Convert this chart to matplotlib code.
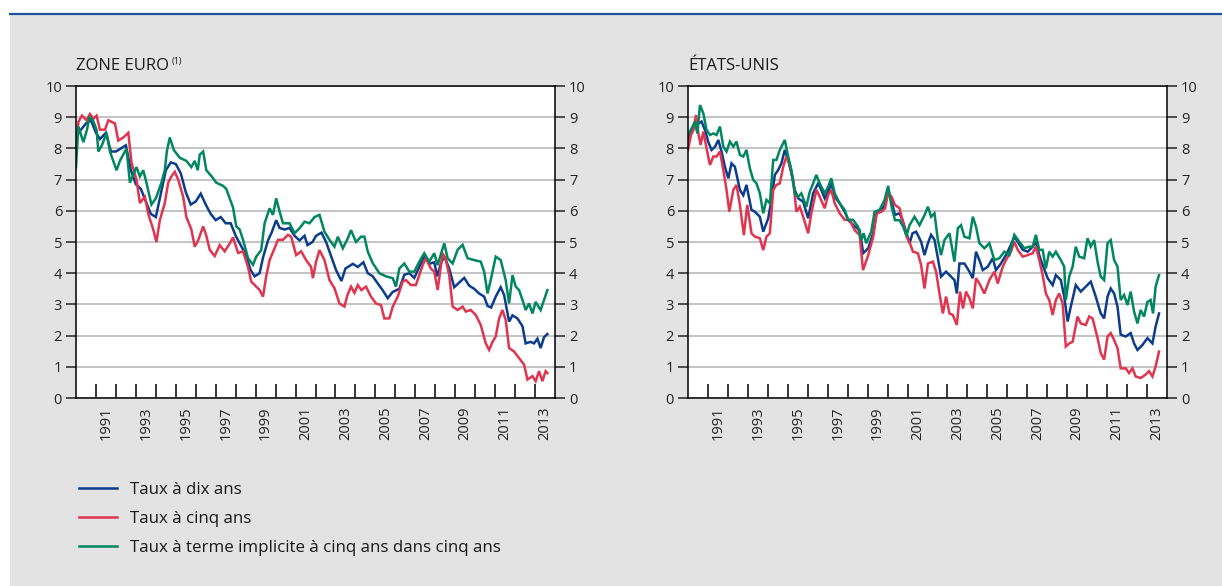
import matplotlib
matplotlib.use("Agg")
import matplotlib.pyplot as plt
from matplotlib.patches import Rectangle
from matplotlib.lines import Line2D

plt.rcParams['font.family'] = ['Open Sans', 'DejaVu Sans']

# --- zone euro ---
ez10_t = [1990.0, 1990.25, 1990.5, 1990.75, 1991.0, 1991.2, 1991.5, 1991.75, 1992.0, 1992.25, 1992.5, 1992.75,
          1993.0, 1993.25, 1993.5, 1993.75, 1994.0, 1994.25, 1994.5, 1994.75, 1995.0, 1995.25, 1995.5, 1995.75,
          1996.0, 1996.25, 1996.5, 1996.75, 1997.0, 1997.25, 1997.5, 1997.75, 1998.0, 1998.25, 1998.5, 1998.75,
          1998.95, 1999.2, 1999.37, 1999.62, 1999.8, 2000.03, 2000.2, 2000.45, 2000.7, 2000.95, 2001.2, 2001.45,
          2001.6, 2001.85, 2002.03, 2002.3, 2002.53, 2002.78, 2003.03, 2003.3, 2003.5, 2003.87, 2004.12, 2004.4,
          2004.62, 2004.87, 2005.12, 2005.37, 2005.62, 2005.87, 2006.2, 2006.45, 2006.7, 2006.95, 2007.2, 2007.45,
          2007.7, 2007.95, 2008.1, 2008.28, 2008.45, 2008.7, 2008.95, 2009.2, 2009.45, 2009.7, 2009.95, 2010.2,
          2010.45, 2010.62, 2010.8, 2011.03, 2011.28, 2011.45, 2011.7, 2011.87, 2012.12, 2012.37, 2012.53, 2012.78,
          2012.95, 2013.12, 2013.28, 2013.45, 2013.62]
ez10 = [8.4, 8.6, 8.8, 8.9, 8.5, 8.3, 8.5, 7.9, 7.9, 8.0, 8.1, 7.3,
        6.85, 6.7, 6.3, 5.9, 5.8, 6.55, 7.3, 7.55, 7.5, 7.2, 6.6, 6.2,
        6.3, 6.55, 6.2, 5.9, 5.7, 5.8, 5.6, 5.6, 5.2, 4.9, 4.6, 4.1,
        3.9, 4.0, 4.5, 5.05, 5.3, 5.7, 5.45, 5.4, 5.45, 5.2, 5.05, 5.2,
        4.9, 5.0, 5.2, 5.3, 5.0, 4.55, 4.1, 3.75, 4.15, 4.3, 4.2, 4.35,
        4.0, 3.9, 3.67, 3.45, 3.2, 3.4, 3.5, 3.95, 4.0, 3.85, 4.2, 4.55,
        4.3, 4.35, 3.9, 4.3, 4.55, 4.15, 3.55, 3.7, 3.85, 3.6, 3.5, 3.35,
        3.25, 2.95, 2.9, 3.25, 3.55, 3.3, 2.45, 2.65, 2.55, 2.3, 1.75, 1.8,
        1.75, 1.9, 1.6, 1.95, 2.05]

ez5_t = [1990.0, 1990.12, 1990.3, 1990.53, 1990.7, 1990.87, 1991.03, 1991.2, 1991.45, 1991.62, 1991.95, 1992.12,
         1992.37, 1992.62, 1992.78, 1993.03, 1993.2, 1993.45, 1993.62, 1993.87, 1994.03, 1994.2, 1994.45, 1994.62,
         1994.78, 1994.95, 1995.12, 1995.37, 1995.53, 1995.78, 1995.95, 1996.12, 1996.37, 1996.53, 1996.7, 1996.95,
         1997.2, 1997.45, 1997.7, 1997.87, 1998.12, 1998.37, 1998.62, 1998.78, 1999.03, 1999.2, 1999.37, 1999.53,
         1999.7, 1999.95, 2000.12, 2000.37, 2000.62, 2000.78, 2001.03, 2001.28, 2001.53, 2001.78, 2001.87, 2002.03,
         2002.2, 2002.45, 2002.7, 2002.95, 2003.2, 2003.45, 2003.6, 2003.78, 2003.95, 2004.12, 2004.3, 2004.53,
         2004.78, 2005.03, 2005.28, 2005.45, 2005.7, 2005.87, 2006.12, 2006.37, 2006.53, 2006.78, 2007.03, 2007.2,
         2007.37, 2007.53, 2007.78, 2007.95, 2008.12, 2008.37, 2008.53, 2008.7, 2008.87, 2009.12, 2009.37, 2009.53,
         2009.78, 2010.03, 2010.28, 2010.53, 2010.7, 2010.87, 2011.03, 2011.2, 2011.37, 2011.53, 2011.7, 2011.95,
         2012.2, 2012.45, 2012.62, 2012.87, 2013.03, 2013.2, 2013.37, 2013.53, 2013.62]
ez5 = [7.95, 8.85, 9.05, 8.9, 9.1, 8.95, 9.05, 8.6, 8.6, 8.9, 8.8, 8.25,
       8.35, 8.5, 7.55, 7.0, 6.25, 6.45, 5.9, 5.4, 5.0, 5.7, 6.25, 6.9,
       7.1, 7.25, 7.0, 6.45, 5.8, 5.4, 4.85, 5.05, 5.5, 5.2, 4.75, 4.55,
       4.9, 4.7, 4.95, 5.15, 4.65, 4.7, 4.2, 3.73, 3.57, 3.46, 3.25, 3.9,
       4.42, 4.8, 5.07, 5.07, 5.23, 5.17, 4.58, 4.7, 4.42, 4.2, 3.84, 4.37,
       4.74, 4.42, 3.78, 3.52, 3.03, 2.93, 3.3, 3.57, 3.37, 3.62, 3.46, 3.57,
       3.25, 3.03, 2.98, 2.55, 2.55, 2.93, 3.25, 3.73, 3.78, 3.62, 3.62, 3.94,
       4.26, 4.48, 4.15, 4.05, 3.46, 4.64, 4.42, 3.94, 2.93, 2.82, 2.93, 2.77,
       2.82, 2.66, 2.34, 1.75, 1.54, 1.8, 1.97, 2.55, 2.82, 2.5, 1.6, 1.49,
       1.28, 1.07, 0.59, 0.7, 0.54, 0.86, 0.54, 0.86, 0.8]

ezfw_t = [1990.0, 1990.12, 1990.37, 1990.55, 1990.67, 1990.85, 1991.03, 1991.12, 1991.3, 1991.53, 1991.7, 1992.03,
          1992.2, 1992.53, 1992.7, 1993.03, 1993.2, 1993.37, 1993.53, 1993.78, 1994.0, 1994.28, 1994.45, 1994.55,
          1994.7, 1994.9, 1995.2, 1995.53, 1995.78, 1995.95, 1996.1, 1996.2, 1996.37, 1996.53, 1996.8, 1997.03,
          1997.37, 1997.53, 1997.7, 1997.87, 1998.03, 1998.2, 1998.37, 1998.62, 1998.87, 1999.03, 1999.28, 1999.45,
          1999.7, 1999.87, 2000.03, 2000.2, 2000.37, 2000.7, 2000.95, 2001.2, 2001.45, 2001.7, 2001.95, 2002.2,
          2002.45, 2002.7, 2002.95, 2003.12, 2003.37, 2003.62, 2003.78, 2004.03, 2004.28, 2004.45, 2004.62, 2004.87,
          2005.2, 2005.53, 2005.87, 2006.03, 2006.2, 2006.45, 2006.7, 2006.95, 2007.2, 2007.45, 2007.7, 2007.95,
          2008.12, 2008.45, 2008.62, 2008.87, 2009.12, 2009.37, 2009.62, 2009.95, 2010.28, 2010.45, 2010.62, 2010.78,
          2011.03, 2011.28, 2011.53, 2011.7, 2011.87, 2012.03, 2012.2, 2012.37, 2012.53, 2012.7, 2012.87, 2013.03,
          2013.28, 2013.45, 2013.62]
ezfw = [7.4, 8.7, 8.2, 8.6, 9.0, 8.9, 8.6, 7.9, 8.1, 8.5, 7.9, 7.3,
        7.6, 8.0, 6.9, 7.4, 7.1, 7.3, 6.9, 6.2, 6.4, 6.9, 7.3, 7.9,
        8.35, 7.95, 7.7, 7.6, 7.4, 7.6, 7.3, 7.8, 7.9, 7.3, 7.1, 6.9,
        6.8, 6.7, 6.4, 6.1, 5.5, 5.4, 5.07, 4.48, 4.27, 4.53, 4.74, 5.6,
        6.08, 5.87, 6.4, 5.98, 5.6, 5.6, 5.28, 5.44, 5.65, 5.6, 5.8, 5.87,
        5.33, 5.07, 4.85, 5.17, 4.8, 5.12, 5.38, 5.0, 5.17, 5.17, 4.69, 4.32,
        4.0, 3.9, 3.84, 3.57, 4.15, 4.31, 4.05, 4.05, 4.37, 4.64, 4.37, 4.64,
        4.26, 4.96, 4.48, 4.31, 4.75, 4.91, 4.48, 4.42, 4.37, 4.05, 3.35, 3.78,
        4.53, 4.42, 3.78, 3.03, 3.94, 3.57, 3.46, 3.14, 2.82, 3.03, 2.71, 3.08,
        2.82, 3.14, 3.46]

# --- états-unis ---
us10_t = [1990.0, 1990.07, 1990.3, 1990.52, 1990.68, 1990.85, 1991.02, 1991.18, 1991.35, 1991.52, 1991.68, 1991.85,
          1992.02, 1992.18, 1992.35, 1992.6, 1992.77, 1992.93, 1993.18, 1993.35, 1993.6, 1993.77, 1994.02, 1994.18,
          1994.35, 1994.52, 1994.68, 1994.85, 1995.02, 1995.18, 1995.35, 1995.52, 1995.77, 1996.02, 1996.27, 1996.52,
          1996.68, 1996.85, 1997.02, 1997.18, 1997.35, 1997.6, 1997.85, 1998.03, 1998.37, 1998.6, 1998.78, 1999.03,
          1999.28, 1999.45, 1999.7, 1999.87, 2000.03, 2000.2, 2000.37, 2000.6, 2000.75, 2001.1, 2001.25, 2001.43,
          2001.68, 2001.85, 2002.02, 2002.18, 2002.35, 2002.52, 2002.68, 2002.93, 2003.18, 2003.35, 2003.47, 2003.6,
          2003.85, 2004.1, 2004.27, 2004.43, 2004.6, 2004.77, 2005.02, 2005.27, 2005.43, 2005.68, 2005.93, 2006.18,
          2006.35, 2006.52, 2006.77, 2007.02, 2007.27, 2007.43, 2007.6, 2007.77, 2008.02, 2008.27, 2008.43, 2008.68,
          2008.85, 2009.02, 2009.18, 2009.43, 2009.68, 2009.93, 2010.18, 2010.43, 2010.68, 2010.85, 2011.02, 2011.18,
          2011.35, 2011.52, 2011.68, 2011.93, 2012.18, 2012.35, 2012.52, 2012.77, 2013.02, 2013.27, 2013.43, 2013.6]
us10 = [8.3, 8.48, 8.64, 8.8, 8.86, 8.59, 8.2, 7.95, 8.05, 8.27, 7.9, 7.41,
        7.04, 7.52, 7.41, 6.67, 6.5, 6.83, 6.03, 5.97, 5.81, 5.33, 5.76, 6.35,
        7.15, 7.31, 7.52, 7.95, 7.63, 7.2, 6.67, 6.4, 6.29, 5.76, 6.56, 6.88,
        6.67, 6.4, 6.61, 6.88, 6.45, 6.24, 5.97, 5.7, 5.49, 5.38, 4.64, 4.8,
        5.28, 5.92, 6.03, 6.19, 6.67, 6.3, 5.87, 5.92, 5.7, 4.96, 5.28, 5.33,
        5.01, 4.58, 4.96, 5.23, 5.07, 4.48, 3.89, 4.05, 3.89, 3.78, 3.35, 4.31,
        4.31, 4.05, 3.84, 4.69, 4.42, 4.1, 4.21, 4.48, 4.1, 4.31, 4.58, 4.91,
        5.17, 5.01, 4.75, 4.69, 4.85, 5.01, 4.58, 4.26, 3.84, 3.62, 3.94, 3.78,
        3.25, 2.45, 2.93, 3.62, 3.41, 3.57, 3.73, 3.25, 2.71, 2.55, 3.25, 3.51,
        3.35, 2.93, 2.03, 1.97, 2.08, 1.75, 1.54, 1.7, 1.92, 1.75, 2.29, 2.71]

us5_t = [1990.0, 1990.15, 1990.27, 1990.4, 1990.52, 1990.63, 1990.77, 1990.93, 1991.1, 1991.27, 1991.43, 1991.6,
         1991.77, 1991.93, 1992.07, 1992.27, 1992.43, 1992.6, 1992.8, 1992.97, 1993.18, 1993.35, 1993.6, 1993.77,
         1993.93, 1994.1, 1994.27, 1994.43, 1994.6, 1994.77, 1994.93, 1995.1, 1995.27, 1995.43, 1995.6, 1995.77,
         1996.02, 1996.18, 1996.43, 1996.6, 1996.85, 1997.02, 1997.18, 1997.35, 1997.6, 1997.85, 1998.1, 1998.35,
         1998.6, 1998.77, 1999.03, 1999.28, 1999.45, 1999.7, 1999.87, 2000.03, 2000.2, 2000.37, 2000.6, 2000.78,
         2000.95, 2001.12, 2001.27, 2001.52, 2001.68, 2001.85, 2002.02, 2002.27, 2002.43, 2002.6, 2002.77, 2002.93,
         2003.1, 2003.27, 2003.47, 2003.63, 2003.78, 2003.93, 2004.1, 2004.27, 2004.43, 2004.6, 2004.85, 2005.1,
         2005.35, 2005.52, 2005.77, 2005.93, 2006.18, 2006.35, 2006.52, 2006.77, 2007.02, 2007.27, 2007.43, 2007.6,
         2007.77, 2007.93, 2008.1, 2008.27, 2008.43, 2008.6, 2008.77, 2008.93, 2009.1, 2009.27, 2009.52, 2009.68,
         2009.93, 2010.1, 2010.27, 2010.52, 2010.68, 2010.85, 2011.02, 2011.18, 2011.35, 2011.52, 2011.68, 2011.93,
         2012.1, 2012.27, 2012.43, 2012.68, 2012.93, 2013.1, 2013.27, 2013.43, 2013.6]
us5 = [7.95, 8.43, 8.59, 9.07, 8.48, 8.11, 8.54, 8.0, 7.47, 7.74, 7.74, 7.9,
       7.31, 6.67, 5.97, 6.67, 6.83, 6.19, 5.22, 6.19, 5.28, 5.17, 5.12, 4.74,
       5.17, 5.28, 6.67, 6.83, 6.88, 7.41, 7.74, 7.47, 6.99, 5.97, 6.13, 5.81,
       5.28, 5.92, 6.67, 6.45, 6.08, 6.51, 6.67, 6.24, 5.92, 5.71, 5.71, 5.38,
       5.22, 4.1, 4.58, 5.17, 5.92, 5.97, 6.08, 6.56, 6.45, 6.19, 6.08, 5.6,
       5.17, 4.96, 4.69, 4.64, 4.26, 3.51, 4.31, 4.37, 4.05, 3.35, 2.71, 3.25,
       2.71, 2.66, 2.34, 3.41, 2.87, 3.41, 3.2, 2.87, 3.84, 3.67, 3.35, 3.78,
       4.05, 3.67, 4.21, 4.42, 4.69, 5.01, 4.75, 4.53, 4.58, 4.64, 4.85, 4.42,
       3.94, 3.35, 3.14, 2.66, 3.14, 3.35, 3.03, 1.65, 1.75, 1.8, 2.61, 2.39,
       2.34, 2.61, 2.55, 1.92, 1.44, 1.23, 1.97, 2.08, 1.86, 1.6, 0.95, 0.95,
       0.8, 0.95, 0.69, 0.64, 0.75, 0.86, 0.69, 1.01, 1.49]

usfw_t = [1990.0, 1990.18, 1990.35, 1990.47, 1990.6, 1990.77, 1990.93, 1991.1, 1991.27, 1991.43, 1991.6, 1991.77,
          1991.93, 1992.1, 1992.27, 1992.43, 1992.6, 1992.77, 1992.93, 1993.1, 1993.27, 1993.43, 1993.6, 1993.77,
          1993.93, 1994.1, 1994.27, 1994.43, 1994.6, 1994.85, 1995.02, 1995.18, 1995.35, 1995.52, 1995.68, 1995.93,
          1996.1, 1996.27, 1996.43, 1996.6, 1996.85, 1997.02, 1997.18, 1997.35, 1997.6, 1997.85, 1998.02, 1998.27,
          1998.52, 1998.68, 1998.8, 1998.93, 1999.18, 1999.35, 1999.6, 1999.85, 2000.03, 2000.2, 2000.37, 2000.6,
          2000.78, 2000.95, 2001.1, 2001.35, 2001.6, 2001.85, 2002.02, 2002.18, 2002.35, 2002.52, 2002.68, 2002.85,
          2003.1, 2003.35, 2003.52, 2003.68, 2003.85, 2004.1, 2004.27, 2004.43, 2004.6, 2004.85, 2005.1, 2005.35,
          2005.6, 2005.85, 2006.1, 2006.35, 2006.6, 2006.85, 2007.1, 2007.27, 2007.43, 2007.6, 2007.77, 2007.93,
          2008.1, 2008.27, 2008.43, 2008.68, 2008.85, 2008.93, 2009.1, 2009.27, 2009.43, 2009.6, 2009.85, 2010.02,
          2010.18, 2010.35, 2010.52, 2010.68, 2010.85, 2011.02, 2011.18, 2011.35, 2011.52, 2011.68, 2011.85, 2012.02,
          2012.18, 2012.35, 2012.52, 2012.68, 2012.85, 2013.02, 2013.18, 2013.3, 2013.43, 2013.6]
usfw = [8.43, 8.64, 8.86, 8.48, 9.39, 9.12, 8.59, 8.43, 8.48, 8.43, 8.7, 8.06,
        7.9, 8.22, 8.06, 8.22, 7.79, 7.74, 7.95, 7.36, 6.99, 6.88, 6.56, 5.92,
        6.35, 6.24, 7.63, 7.63, 7.95, 8.27, 7.74, 7.31, 6.56, 6.45, 6.56, 6.13,
        6.61, 6.88, 7.15, 6.88, 6.56, 6.77, 7.04, 6.56, 6.24, 6.03, 5.71, 5.71,
        5.49, 5.06, 5.28, 4.96, 5.33, 5.97, 6.03, 6.35, 6.8, 6.13, 5.7, 5.7,
        5.49, 5.2, 5.54, 5.81, 5.54, 5.86, 6.13, 5.81, 5.92, 5.06, 4.58, 5.06,
        5.28, 4.37, 5.44, 5.54, 5.17, 5.12, 5.81, 5.49, 4.96, 4.8, 4.96, 4.42,
        4.48, 4.69, 4.58, 5.23, 5.01, 4.8, 4.85, 4.85, 5.23, 4.75, 4.75, 4.15,
        4.69, 4.53, 4.69, 4.42, 4.21, 3.14, 3.89, 4.21, 4.85, 4.53, 4.48, 5.12,
        4.85, 5.06, 4.37, 3.89, 3.78, 4.96, 5.06, 4.42, 4.21, 3.14, 3.3, 2.98,
        3.41, 2.77, 2.39, 2.82, 2.61, 3.08, 3.14, 2.71, 3.57, 3.94]

years = list(range(1991, 2014))
labelled_years = list(range(1991, 2014, 2))

BLUE = '#0b3d8c'
RED = '#e0344f'
GREEN = '#00875f'
BG = '#e3e3e3'
INK = '#1a1a1a'

fig = plt.figure(figsize=(12.22, 5.86), dpi=100)
fig.patch.set_facecolor('white')
fig.add_artist(Rectangle((10 / 1222, 0), 1, 572 / 586, transform=fig.transFigure,
                         facecolor=BG, edgecolor='none', zorder=-10))
fig.add_artist(Line2D([10 / 1222, 1], [572 / 586, 572 / 586], transform=fig.transFigure,
                      color='#1f5297', lw=1.6))


def draw_panel(ax, series, title, note=None):
    for t, v, c in series:
        ax.plot(t, v, color=c, lw=1.8, solid_joinstyle='miter')
    ax.set_xlim(1990, 2014)
    ax.set_ylim(0, 10)
    ax.set_facecolor('white')
    ax.set_yticks(range(0, 11))
    ax.grid(axis='y', color='#b4b4b4', lw=1.1)
    ax.set_axisbelow(True)
    for s in ax.spines.values():
        s.set_color('black')
        s.set_linewidth(1.1)
    ax.tick_params(axis='y', which='both', left=True, right=True, labelleft=True, labelright=True,
                   direction='out', length=7, width=1.1, labelsize=10.5, pad=3, colors='#222222')
    ax.set_xticks(years)
    ax.set_xticklabels([])
    ax.tick_params(axis='x', which='major', direction='in', length=10, width=1.1, color='black')
    ax.set_xticks([y + 0.5 for y in labelled_years], minor=True)
    ax.set_xticklabels([str(y) for y in labelled_years], minor=True, rotation=90, fontsize=10.5,
                       color='#222222')
    ax.tick_params(axis='x', which='minor', length=0, pad=6)
    txt = ax.text(0, 1.05, title, transform=ax.transAxes, fontsize=12, color=INK,
                  ha='left', va='baseline')
    if note:
        ax.annotate(note, xy=(1, 0.55), xycoords=txt, xytext=(2, 0), textcoords='offset points',
                    fontsize=6.5, color=INK, ha='left', va='bottom')


ax1 = fig.add_axes([76 / 1222, 188 / 586, 479 / 1222, 312 / 586])
ax2 = fig.add_axes([688 / 1222, 188 / 586, 479 / 1222, 312 / 586])

draw_panel(ax1, [(ez10_t, ez10, BLUE), (ez5_t, ez5, RED), (ezfw_t, ezfw, GREEN)], 'ZONE EURO', '(1)')
draw_panel(ax2, [(us10_t, us10, BLUE), (us5_t, us5, RED), (usfw_t, usfw, GREEN)], 'ÉTATS-UNIS')

labels = ['Taux à dix ans', 'Taux à cinq ans', 'Taux à terme implicite à cinq ans dans cinq ans']
fig.legend(ax1.get_lines(), labels, loc='upper left', bbox_to_anchor=(72 / 1222, 1 - 475 / 586),
           frameon=False, fontsize=12.2, handlelength=2.25, handletextpad=0.8, labelspacing=0.78,
           borderaxespad=0, labelcolor=INK)

fig.savefig('out.png', dpi=100, facecolor=fig.get_facecolor())
